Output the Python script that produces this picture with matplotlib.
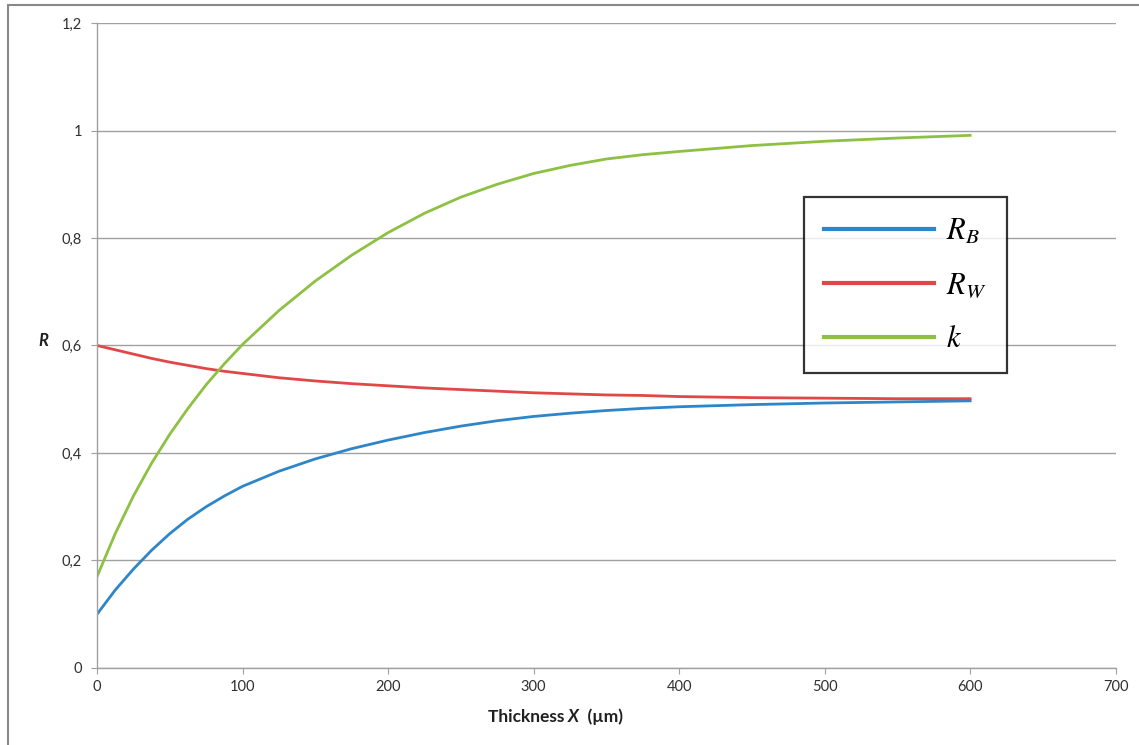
import matplotlib
matplotlib.use('Agg')
import matplotlib.pyplot as plt
from matplotlib.ticker import FuncFormatter, MultipleLocator
from matplotlib.offsetbox import TextArea, HPacker, AnchoredOffsetbox
from matplotlib.patches import Rectangle

# thickness (um) and the three curves
espesor = [0, 12.5, 25, 37.5, 50, 62.5, 75, 87.5, 100, 125, 150, 175, 200,
           225, 250, 275, 300, 325, 350, 375, 400, 450, 500, 550, 600]
r_b = [0.100, 0.145, 0.184, 0.219, 0.250, 0.277, 0.300, 0.320, 0.338, 0.366,
       0.389, 0.408, 0.424, 0.438, 0.450, 0.460, 0.468, 0.474, 0.479, 0.483,
       0.486, 0.490, 0.493, 0.495, 0.497]
r_w = [0.600, 0.592, 0.584, 0.576, 0.569, 0.563, 0.557, 0.552, 0.548, 0.540,
       0.534, 0.529, 0.525, 0.521, 0.518, 0.515, 0.512, 0.510, 0.508, 0.507,
       0.505, 0.503, 0.502, 0.501, 0.501]
k = [0.170, 0.250, 0.320, 0.381, 0.435, 0.483, 0.527, 0.566, 0.602, 0.665,
     0.720, 0.768, 0.810, 0.846, 0.876, 0.900, 0.920, 0.935, 0.947, 0.955,
     0.961, 0.972, 0.980, 0.986, 0.991]

plt.rcParams['font.family'] = ['Lato', 'DejaVu Sans']

fig = plt.figure(figsize=(11.39, 7.45), dpi=100)
ax = fig.add_axes([0.0852, 0.1034, 0.8943, 0.8657])

# marco exterior del grafico
fig.add_artist(Rectangle((8 / 1139, -0.1), 1.2, 1.1 - 5 / 745, transform=fig.transFigure,
                         fill=False, edgecolor='#888888', linewidth=1.5, clip_on=False))

ax.plot(espesor, r_b, color='#2e86c8', lw=2, label=r'$R_B$')
ax.plot(espesor, r_w, color='#e04848', lw=2, label=r'$R_W$')
ax.plot(espesor, k, color='#8dc043', lw=2, label=r'$k$')

ax.set_xlim(0, 700)
ax.set_ylim(0, 1.2)
ax.xaxis.set_major_locator(MultipleLocator(100))
ax.yaxis.set_major_locator(MultipleLocator(0.2))
ax.yaxis.set_major_formatter(FuncFormatter(lambda v, p: ('%g' % round(v, 1)).replace('.', ',')))

ax.grid(axis='y', color='#a0a0a0', lw=1)
ax.set_axisbelow(True)
for s in ['top', 'right']:
    ax.spines[s].set_visible(False)
for s in ['left', 'bottom']:
    ax.spines[s].set_color('#a0a0a0')
    ax.spines[s].set_linewidth(1)
ax.tick_params(axis='both', colors='#a0a0a0', labelcolor='#303030', labelsize=10.5)
ax.tick_params(axis='x', length=4, pad=5)
ax.tick_params(axis='y', length=4, pad=7)

ax.set_ylabel('R', rotation=0, fontstyle='italic', fontweight='bold', fontsize=12, color='#202020')
ax.yaxis.set_label_coords(-0.053, 0.495)

# etiqueta del eje x con la X en cursiva
partes = [TextArea('Thickness ', textprops=dict(fontweight='bold', fontsize=12.5, color='#202020')),
          TextArea('X', textprops=dict(fontweight='bold', fontstyle='italic', fontsize=12.5, color='#202020')),
          TextArea('  (\u00b5m)', textprops=dict(fontweight='bold', fontsize=12.5, color='#202020'))]
caja = HPacker(children=partes, align='baseline', pad=0, sep=0)
etiqueta = AnchoredOffsetbox(loc='center', child=caja, frameon=False,
                             bbox_to_anchor=(0.45, -0.076), bbox_transform=ax.transAxes, pad=0, borderpad=0)
ax.add_artist(etiqueta)

leg = ax.legend(loc='upper left', bbox_to_anchor=(804 / 1139, 1 - 197 / 745),
                bbox_transform=fig.transFigure, borderaxespad=0,
                prop=dict(size=22, math_fontfamily='stix'), fancybox=False,
                handlelength=3.6, handletextpad=0.4, borderpad=0.66, labelspacing=0.8)
leg.get_frame().set_edgecolor('black')
leg.get_frame().set_linewidth(1.6)
for ln in leg.get_lines():
    ln.set_linewidth(3)

plt.savefig('out.png', dpi=100)
